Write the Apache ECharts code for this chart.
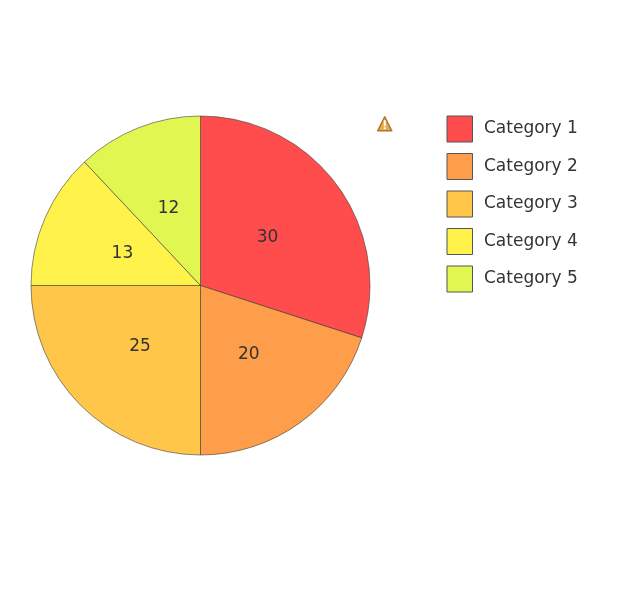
<!DOCTYPE html>
<html>
<head>
<meta charset="utf-8">
<style>html,body{margin:0;padding:0;background:#fff}#c{width:640px;height:606px}</style>
<script src="https://cdn.jsdelivr.net/npm/echarts@6/dist/echarts.min.js"></script>
</head>
<body>
<div id="c"></div>
<script>
const categories = ["Category 1","Category 2","Category 3","Category 4","Category 5"];
const values = [30,20,25,13,12];
const colors = ["#FF4D4D","#FF9E4A","#FFC64A","#FFF24A","#E1F650"];
const chart = echarts.init(document.getElementById('c'),null,{renderer:'canvas'});
const font = 'DejaVu Sans';
const pieData = categories.map((n,i)=>({name:n,value:values[i]}));
chart.setOption({
  animation:false,
  color:colors,
  legend:{
    orient:'vertical',left:441.5,top:110.5,
    itemWidth:25.5,itemHeight:26,itemGap:10.5,
    icon:'rect',
    data:categories,
    textStyle:{fontFamily:font,fontSize:17,color:'#333',padding:[-17,0,0,6.5]},
    itemStyle:{borderColor:'#555',borderWidth:1}
  },
  series:[{
    type:'pie',
    center:[200.5,285.5],
    radius:[0,169.5],
    startAngle:90,
    data:pieData,
    label:{show:false},
    labelLine:{show:false},
    itemStyle:{borderColor:'rgba(50,50,50,0.7)',borderWidth:0.8}
  },{
    type:'pie',
    center:[199.5,287],
    radius:[0,162],
    startAngle:90,
    silent:true,
    data:pieData,
    label:{show:true,position:'inner',formatter:'{c}',fontFamily:font,fontSize:17,color:'#333'},
    labelLine:{show:false},
    itemStyle:{color:'transparent',borderWidth:0}
  }],
  graphic:[{
    type:'group',left:377,top:116,
    children:[
      {type:'polygon',shape:{points:[[8,1],[15,15],[1,15]]},style:{fill:'#E6A94F',stroke:'#B0752A',lineWidth:1.5,lineJoin:'round'}},
      {type:'rect',shape:{x:7,y:4.5,width:2,height:6},style:{fill:'#fff'}},
      {type:'rect',shape:{x:7,y:11.5,width:2,height:2},style:{fill:'#fff'}}
    ]
  }]
});
</script>
</body>
</html>
